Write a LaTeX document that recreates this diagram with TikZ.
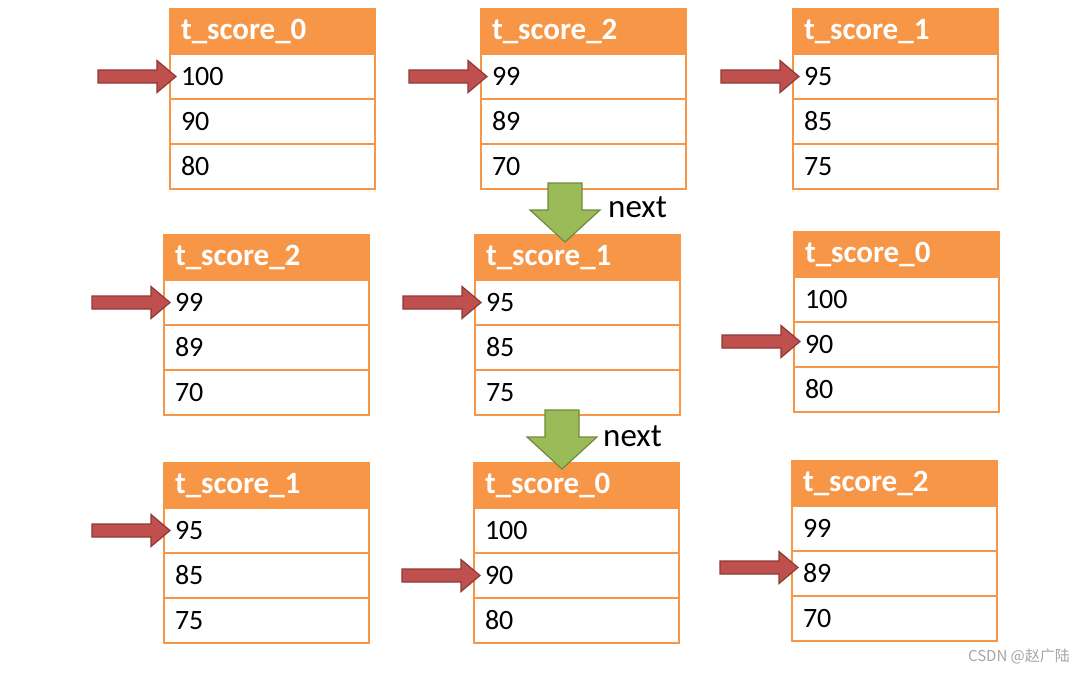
\documentclass[tikz,border=0pt]{standalone}
\usepackage{fontspec}
\setmainfont{Carlito}
\newfontfamily\cjkfont{Noto Sans CJK SC}
\usetikzlibrary{calc}
\definecolor{hdr}{HTML}{F79646}
\definecolor{redf}{HTML}{C0504D}
\definecolor{redd}{HTML}{8C3A38}
\definecolor{grnf}{HTML}{9BBB59}
\definecolor{grnd}{HTML}{71893F}
\tikzset{
  cellbase/.style={draw=hdr, line width=1.3pt, minimum width=205pt, minimum height=45pt,
    anchor=north west, inner sep=0pt, outer sep=0pt, align=left, text width=183pt},
  hcell/.style={cellbase, fill=hdr, text=white, font=\fontsize{31}{32}\selectfont\bfseries},
  bcell/.style={cellbase, fill=white, text=black, font=\fontsize{28}{30}\selectfont},
  redarrow/.style={fill=redf, draw=redd, line width=1.2pt, line join=miter},
  greenarrow/.style={fill=grnf, draw=grnd, line width=1.2pt, line join=miter},
  nextlabel/.style={anchor=west, inner sep=0pt, font=\fontsize{33}{35}\selectfont},
  mark label/.style={text=gray!70, font=\cjkfont\fontsize{15}{16}\selectfont, inner sep=0pt}
}
\newcommand\scoretable[7]{%
  \node[hcell] (#1-h) at (#2,#3) {#4};
  \node[bcell] (#1-1) at (#1-h.south west) {#5};
  \node[bcell] (#1-2) at (#1-1.south west) {#6};
  \node[bcell] (#1-3) at (#1-2.south west) {#7};
}
% red pointer whose tip touches the given anchor
\newcommand\pointer[2][0]{%
  \draw[redarrow, shift={($(#2)+(6,#1)$)}]
    (0,0) -- (-19,-16) -- (-19,-6.5) -- (-78,-6.5) -- (-78,6.5) -- (-19,6.5) -- (-19,16) -- cycle;
}
\newcommand\nextarrow[1]{%
  \draw[greenarrow, shift={(#1)}]
    (-17,0) -- (17,0) -- (17,27) -- (35,27) -- (0,59) -- (-35,27) -- (-17,27) -- cycle;
}
\begin{document}
\begin{tikzpicture}[x=1pt, y=-1pt]
\useasboundingbox[fill=white] (0,0) rectangle (1084,673);

\scoretable{ta}{170}{9}{t\_score\_0}{100}{90}{80}
\scoretable{tb}{481}{9}{t\_score\_2}{99}{89}{70}
\scoretable{tc}{793}{9}{t\_score\_1}{95}{85}{75}

\scoretable{td}{164}{235}{t\_score\_2}{99}{89}{70}
\scoretable{te}{475}{235}{t\_score\_1}{95}{85}{75}
\scoretable{tf}{794}{232}{t\_score\_0}{100}{90}{80}

\scoretable{tg}{164}{463}{t\_score\_1}{95}{85}{75}
\scoretable{th}{474}{463}{t\_score\_0}{100}{90}{80}
\scoretable{ti}{792}{461}{t\_score\_2}{99}{89}{70}

\pointer{ta-1.west}
\pointer{tb-1.west}
\pointer{tc-1.west}
\pointer{td-1.west}
\pointer{te-1.west}
\pointer[-3]{tf-2.west}
\pointer{tg-1.west}
\pointer{th-2.west}
\pointer[-6]{ti-2.west}

\coordinate (g1) at (565,183);
\coordinate (g2) at (562,410);
\nextarrow{g1}
\nextarrow{g2}
\node[nextlabel] (n1) at (608,207) {next};
\node[nextlabel] (n2) at (603,436) {next};

\node[mark label] (wm) at (1019,656) {CSDN @赵广陆};
\end{tikzpicture}
\end{document}
